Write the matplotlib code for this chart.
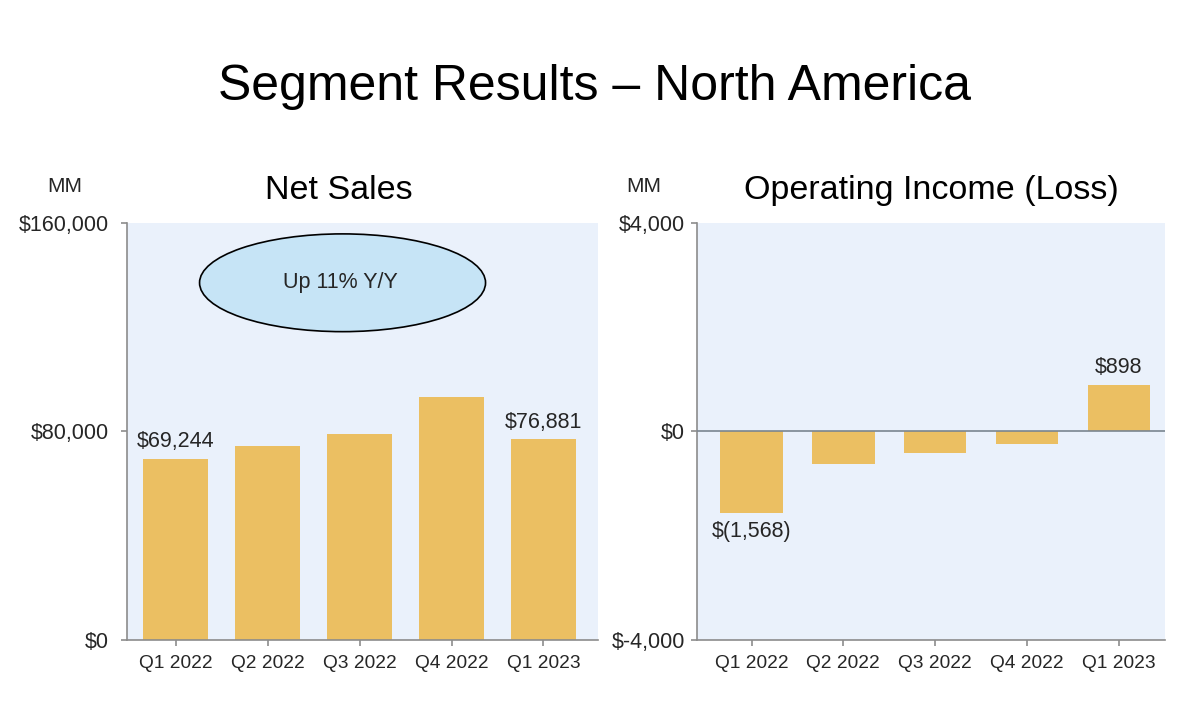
import matplotlib

matplotlib.use("Agg")
import matplotlib.pyplot as plt
from matplotlib.patches import Ellipse
from matplotlib.ticker import FuncFormatter

plt.rcParams["font.family"] = ["Liberation Sans", "DejaVu Sans"]

quarters = ["Q1 2022", "Q2 2022", "Q3 2022", "Q4 2022", "Q1 2023"]
net_sales = [69244, 74430, 78843, 93363, 76881]
op_income = [-1568, -627, -412, -240, 898]

BAR = "#ebbf62"
BG = "#eaf1fb"
SPINE = "#8c8c8c"
TXT = "#262626"


def dollars(v, _pos=None):
    return "${:,.0f}".format(v)


def style_axes(ax, ypad):
    ax.set_facecolor(BG)
    for side in ("top", "right"):
        ax.spines[side].set_visible(False)
    for side in ("left", "bottom"):
        ax.spines[side].set_color(SPINE)
        ax.spines[side].set_linewidth(1.2)
    ax.tick_params(axis="both", colors=SPINE, length=4, width=1.2)
    ax.tick_params(axis="y", labelsize=15.5, labelcolor=TXT, pad=ypad)
    ax.tick_params(axis="x", labelsize=13.8, labelcolor=TXT, pad=7)
    ax.yaxis.set_major_formatter(FuncFormatter(dollars))


def main():
    fig = plt.figure(figsize=(11.86, 7.13), dpi=100)
    fig.text(0.501, 0.878, "Segment Results \u2013 North America",
             ha="center", va="center", fontsize=36, color="black")

    x = list(range(len(quarters)))

    # left panel: net sales
    ax1 = fig.add_axes([0.107, 0.1025, 0.397, 0.585])
    style_axes(ax1, ypad=9)
    ax1.bar(x, net_sales, width=0.7, color=BAR, zorder=2)
    ax1.set_xlim(-0.53, 4.59)
    ax1.set_ylim(0, 160000)
    ax1.set_yticks([0, 80000, 160000])
    ax1.set_xticks(x)
    ax1.set_xticklabels(quarters)
    ax1.annotate(dollars(net_sales[0]), (x[0], net_sales[0]),
                 xytext=(0, 5), textcoords="offset points",
                 ha="center", va="bottom", fontsize=15.5, color=TXT)
    ax1.annotate(dollars(net_sales[-1]), (x[-1], net_sales[-1]),
                 xytext=(0, 5), textcoords="offset points",
                 ha="center", va="bottom", fontsize=15.5, color=TXT)
    oval = Ellipse((1.815, 137000), 3.11, 37500, facecolor="#c6e4f6",
                   edgecolor="black", linewidth=1.2, zorder=3)
    ax1.add_patch(oval)
    ax1.text(1.79, 137000, "Up 11% Y/Y", ha="center", va="center",
             fontsize=15.5, color=TXT, zorder=4)
    fig.text(0.286, 0.733, "Net Sales", ha="center", va="center",
             fontsize=24.5, color="black")
    fig.text(0.055, 0.739, "MM", ha="center", va="center", fontsize=15,
             color=TXT)

    # right panel: operating income
    ax2 = fig.add_axes([0.588, 0.1025, 0.394, 0.585])
    style_axes(ax2, ypad=5)
    ax2.bar(x, op_income, width=0.68, color=BAR, zorder=2)
    ax2.axhline(0, color="#7a8590", linewidth=1.2, zorder=3)
    ax2.set_xlim(-0.59, 4.5)
    ax2.set_ylim(-4000, 4000)
    ax2.set_yticks([-4000, 0, 4000])
    ax2.set_xticks(x)
    ax2.set_xticklabels(quarters)
    ax2.annotate("$(1,568)", (x[0], op_income[0]),
                 xytext=(0, -6), textcoords="offset points",
                 ha="center", va="top", fontsize=15.5, color=TXT)
    ax2.annotate(dollars(op_income[-1]), (x[-1], op_income[-1]),
                 xytext=(0, 5), textcoords="offset points",
                 ha="center", va="bottom", fontsize=15.5, color=TXT)
    fig.text(0.785, 0.733, "Operating Income (Loss)", ha="center",
             va="center", fontsize=24.5, color="black")
    fig.text(0.543, 0.739, "MM", ha="center", va="center", fontsize=15,
             color=TXT)

    fig.savefig("out.png", dpi=100)
    plt.close(fig)


if __name__ == "__main__":
    main()
